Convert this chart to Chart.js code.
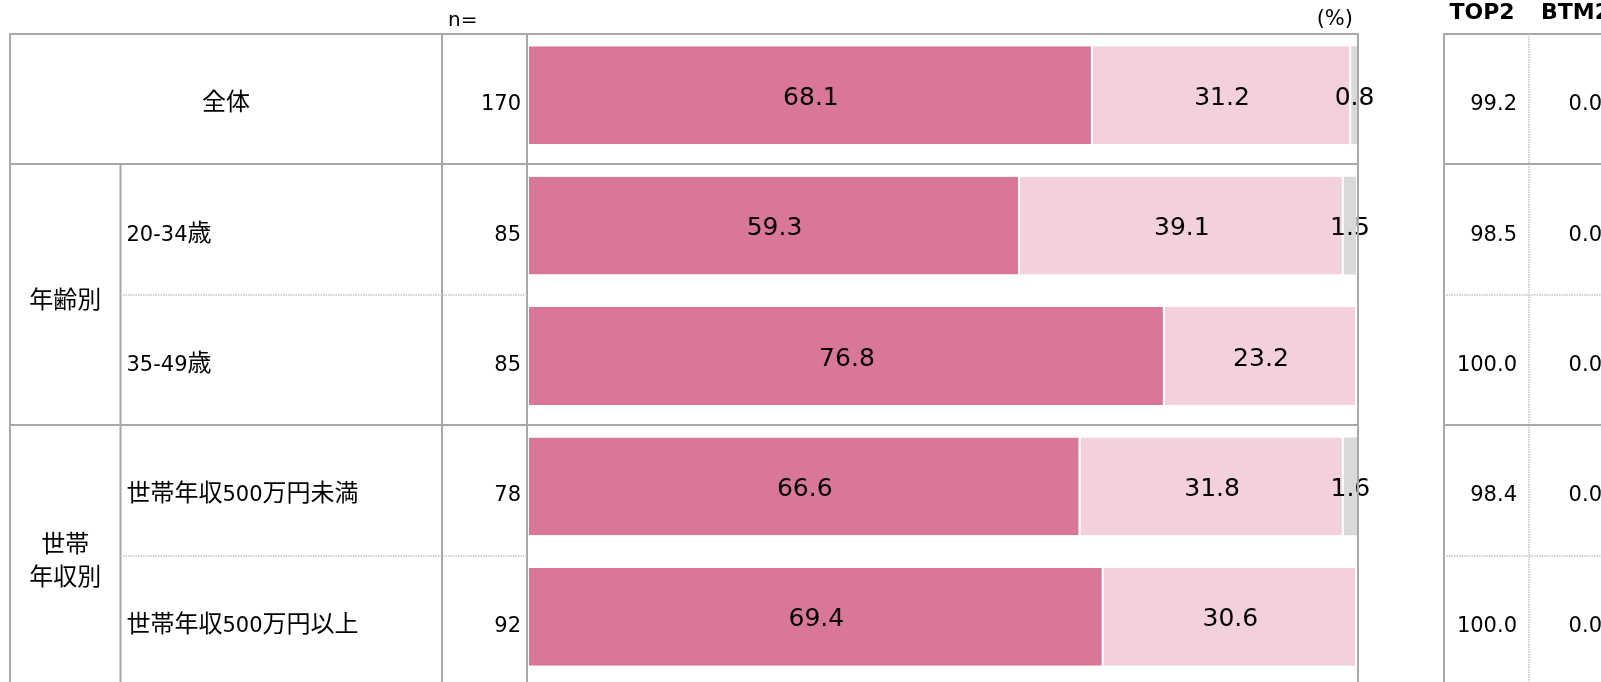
<!DOCTYPE html>
<html>
<head>
<meta charset="utf-8">
<script src="https://cdn.jsdelivr.net/npm/chart.js@4"></script>
<style>
  html, body { margin: 0; padding: 0; background: #fff; overflow: hidden; }
  canvas { display: block; }
</style>
</head>
<body>
<canvas id="myChart" width="1601" height="682"></canvas>
<script>
const categories = ["全体", "20-34歳", "35-49歳", "世帯年収500万円未満", "世帯年収500万円以上"];
const nValues = [170, 85, 85, 78, 92];
const topValues = [68.1, 59.3, 76.8, 66.6, 69.4];
const secondValues = [31.2, 39.1, 23.2, 31.8, 30.6];
const restValues = [0.8, 1.5, 0, 1.6, 0];
const top2Values = [99.2, 98.5, 100.0, 98.4, 100.0];
const btm2Values = [0.0, 0.0, 0.0, 0.0, 0.0];
const groups = [
  { label: ["年齢別"], from: 1, to: 2 },
  { label: ["世帯", "年収別"], from: 3, to: 4 },
];

const FONT = '"DejaVu Sans", "Noto Sans CJK JP", sans-serif';
const LATIN_FONT = '21px "DejaVu Sans", sans-serif';
const CJK_FONT = '24px "Noto Sans CJK JP", sans-serif';
const CJK = /[\u3000-\u9fff\uff00-\uffef]/;
const LINE = "#a8a8a8";
const DOT = "#c4c4c4";

// column edges of the side tables
const colLeft = 10;
const colSub = 120.5;
const colN = 442;
const barLeft = 527;
const barRight = 1358;
const rightLeft = 1444;
const rightMid = 1529;

function hLine(ctx, x1, x2, y, dotted) {
  ctx.save();
  ctx.strokeStyle = dotted ? DOT : LINE;
  ctx.lineWidth = dotted ? 1.5 : 2;
  if (dotted) ctx.setLineDash([1.5, 1]);
  ctx.beginPath();
  ctx.moveTo(x1, y);
  ctx.lineTo(x2, y);
  ctx.stroke();
  ctx.restore();
}

function vLine(ctx, x, y1, y2, dotted) {
  ctx.save();
  ctx.strokeStyle = dotted ? DOT : LINE;
  ctx.lineWidth = dotted ? 1.5 : 2;
  if (dotted) ctx.setLineDash([1.5, 1]);
  ctx.beginPath();
  ctx.moveTo(x, y1);
  ctx.lineTo(x, y2);
  ctx.stroke();
  ctx.restore();
}

// latin and kanji at different sizes, like the original font does
function drawMixed(ctx, text, x, y, align) {
  const runs = text.match(/[\u3000-\u9fff\uff00-\uffef]+|[^\u3000-\u9fff\uff00-\uffef]+/g);
  const parts = runs.map((t) => {
    const font = CJK.test(t) ? CJK_FONT : LATIN_FONT;
    ctx.font = font;
    return { t, font, w: ctx.measureText(t).width };
  });
  const total = parts.reduce((s, p) => s + p.w, 0);
  let cx = align === "center" ? x - total / 2 : align === "right" ? x - total : x;
  ctx.textAlign = "left";
  ctx.textBaseline = "alphabetic";
  parts.forEach((p) => {
    ctx.font = p.font;
    ctx.fillText(p.t, cx, y);
    cx += p.w;
  });
}

const tablePlugin = {
  id: "table",
  afterDraw(chart) {
    const { ctx, scales: { y } } = chart;
    const band = y.getPixelForValue(1) - y.getPixelForValue(0);
    const rowTop = (i) => Math.round(y.getPixelForValue(i) - band / 2 + 4);
    const baseY = (i) => y.getPixelForValue(i) + 15;
    const top = rowTop(0);
    const bottom = chart.height + 5;

    // header texts
    ctx.save();
    ctx.fillStyle = "#000";
    ctx.textBaseline = "middle";
    ctx.font = "20px " + FONT;
    ctx.textAlign = "left";
    ctx.fillText("n=", 448, 21);
    ctx.font = "21px " + FONT;
    ctx.textAlign = "right";
    ctx.fillText("(%)", 1353, 20);
    ctx.font = "bold 22px " + FONT;
    ctx.textBaseline = "alphabetic";
    ctx.textAlign = "center";
    ctx.fillText("TOP2", 1482, 19);
    ctx.textAlign = "left";
    ctx.fillText("BTM2", 1541, 19);
    ctx.restore();

    // grid
    hLine(ctx, colLeft - 1, barRight + 1, top);
    hLine(ctx, rightLeft - 1, 1601, top);
    vLine(ctx, colLeft, top, bottom);
    vLine(ctx, colN, top, bottom);
    vLine(ctx, barLeft, top, bottom);
    vLine(ctx, barRight, top, bottom);
    vLine(ctx, rightLeft, top, bottom);
    vLine(ctx, rightMid, top, bottom, true);
    vLine(ctx, colSub, rowTop(1), bottom);

    for (let i = 1; i < categories.length; i++) {
      const inGroup = groups.some((g) => i > g.from && i <= g.to);
      if (inGroup) {
        hLine(ctx, colSub, barLeft, rowTop(i), true);
        hLine(ctx, rightLeft, 1601, rowTop(i), true);
      } else {
        hLine(ctx, colLeft, barRight, rowTop(i));
        hLine(ctx, rightLeft, 1601, rowTop(i));
      }
    }

    // cell texts
    ctx.save();
    ctx.fillStyle = "#000";
    categories.forEach((label, i) => {
      const by = baseY(i);
      if (i === 0) {
        drawMixed(ctx, label, (colLeft + colN) / 2, by, "center");
      } else {
        drawMixed(ctx, label, colSub + 6, by, "left");
      }
      drawMixed(ctx, String(nValues[i]), barLeft - 6, by, "right");
      drawMixed(ctx, top2Values[i].toFixed(1), rightMid - 12, by, "right");
      drawMixed(ctx, btm2Values[i].toFixed(1), 1602, by, "right");
    });

    groups.forEach((g) => {
      const mid = (rowTop(g.from) + rowTop(g.to) + band) / 2 + 13;
      const lh = 33;
      g.label.forEach((line, k) => {
        const ly = mid + (k - (g.label.length - 1) / 2) * lh;
        drawMixed(ctx, line, (colLeft + colSub) / 2, ly, "center");
      });
    });
    ctx.restore();
  },
  afterDatasetsDraw(chart) {
    const { ctx } = chart;
    ctx.save();
    ctx.fillStyle = "#000";
    ctx.font = "25px " + FONT;
    ctx.textAlign = "center";
    ctx.textBaseline = "middle";
    chart.data.datasets.forEach((ds, di) => {
      chart.getDatasetMeta(di).data.forEach((bar, i) => {
        const v = ds.data[i];
        if (!v) return;
        ctx.fillText(v.toFixed(1), (bar.x + bar.base) / 2, bar.y + 3);
      });
    });
    ctx.restore();
  },
};

function initChart() {
  const data = {
    labels: categories,
    datasets: [
      {
        label: "top",
        data: topValues,
        backgroundColor: "#d97797",
        borderColor: "#ffffff",
        borderWidth: { top: 0, right: 2, bottom: 0, left: 0 },
        borderSkipped: false,
      },
      {
        label: "second",
        data: secondValues,
        backgroundColor: "#f2d1dc",
        borderColor: "#ffffff",
        borderWidth: { top: 0, right: 2, bottom: 0, left: 0 },
        borderSkipped: false,
      },
      {
        label: "rest",
        data: restValues,
        backgroundColor: "#d9d9d9",
        borderWidth: 0,
      },
    ],
  };

  const config = {
    type: "bar",
    data: data,
    options: {
      indexAxis: "y",
      responsive: false,
      animation: false,
      barPercentage: 0.75,
      categoryPercentage: 1,
      layout: {
        padding: { left: 529, right: 244, top: 30, bottom: 0 },
      },
      scales: {
        x: { stacked: true, min: 0, max: 100, display: false },
        y: { stacked: true, display: false },
      },
      plugins: {
        legend: { display: false },
        tooltip: { enabled: false },
      },
    },
    plugins: [tablePlugin],
  };

  new Chart(document.getElementById("myChart"), config);
}

initChart();
</script>
</body>
</html>
